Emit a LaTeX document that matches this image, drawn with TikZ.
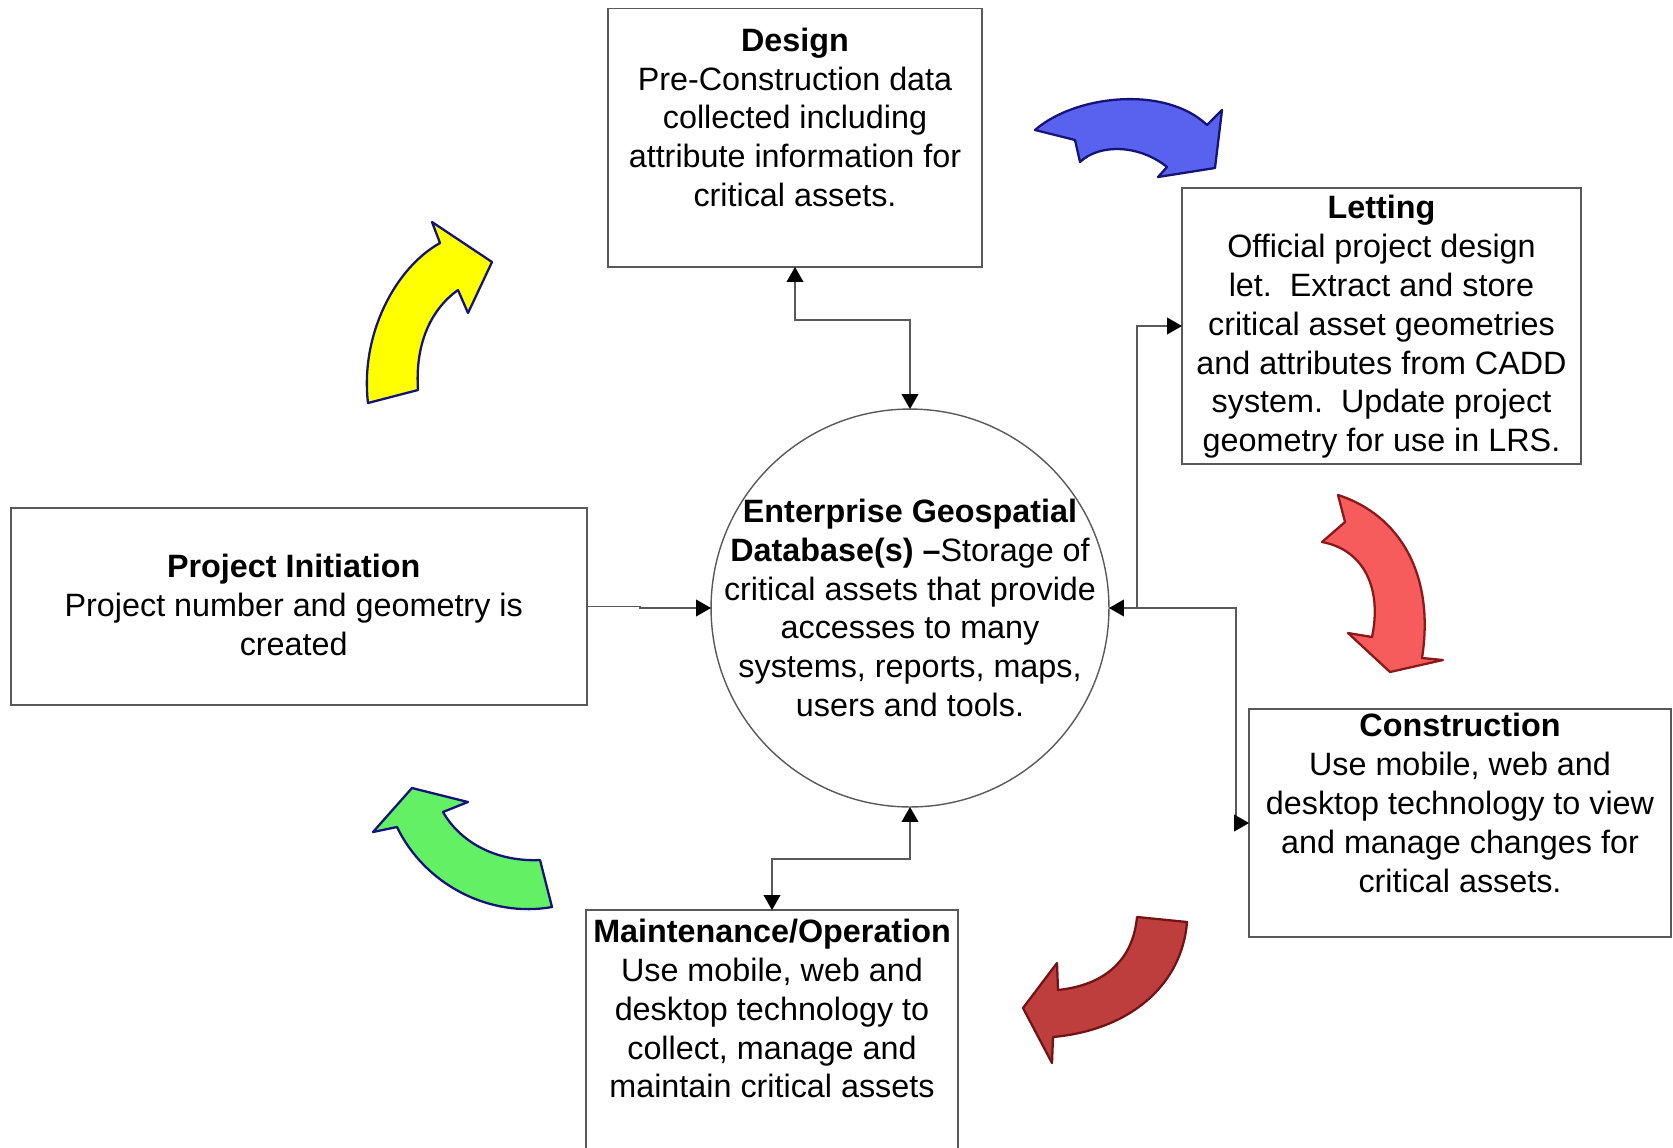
\documentclass[tikz,border=0pt]{standalone}
\usepackage{fontspec}
\setmainfont{Liberation Sans}
\usetikzlibrary{positioning,arrows.meta}

\definecolor{navyline}{RGB}{20,20,120}
\definecolor{swyellow}{RGB}{255,255,0}
\definecolor{swblue}{RGB}{88,98,238}
\definecolor{swred}{RGB}{246,92,92}
\definecolor{swredline}{RGB}{140,25,25}
\definecolor{swdark}{RGB}{190,62,62}
\definecolor{swdarkline}{RGB}{115,20,20}
\definecolor{swgreen}{RGB}{100,240,100}

\begin{document}
\begin{tikzpicture}[x=0.02cm,y=-0.02cm,
  box/.style={draw=gray!70!black, line width=0.8pt, inner sep=0pt, outer sep=0pt},
  txt/.style={font=\fontsize{18.4}{22.1}\selectfont, align=center, inner sep=0pt},
  link/.style={draw=gray!70!black, line width=0.8pt},
  >={Triangle[length=8.5pt,width=9.5pt,color=black]},
  swoop/.style={line width=1.3pt, line join=round}]
\useasboundingbox (0,0) rectangle (1673,1147);

% boxes
\node [box, minimum width=7.48cm, minimum height=5.17cm] (design) at (795,137.75) {};
\node [box, minimum width=7.98cm, minimum height=5.52cm] (letting) at (1381.5,326) {};
\node [box, minimum width=11.52cm, minimum height=3.94cm] (pinit) at (299,606.5) {};
\node [box, minimum width=8.44cm, minimum height=4.56cm] (constr) at (1460,823) {};
\node [box, minimum width=7.44cm, minimum height=5.2cm] (maint) at (772,1040) {};
\node [box, circle, minimum size=7.96cm] (db) at (910,608) {};

% texts
\node [txt] (dbtxt) at (db.center)
  {\textbf{Enterprise Geospatial}\\\textbf{Database(s) --}Storage of\\critical assets that provide\\accesses to many\\systems, reports, maps,\\users and tools.};
\node [txt, below=10.8pt of design.north] (designtxt)
  {\textbf{Design}\\Pre-Construction data\\collected including\\attribute information for\\critical assets.};
\node [txt, below=4pt of letting.north] (lettingtxt)
  {\textbf{Letting}\\Official project design\\let.\ \ Extract and store\\critical asset geometries\\and attributes from CADD\\system.\ \ Update project\\geometry for use in LRS.};
\node [txt, below=26pt of pinit.north, xshift=-3pt] (pinittxt)
  {\textbf{Project Initiation}\\Project number and geometry is\\created};
\node [txt, below=2.3pt of constr.north] (constrtxt)
  {\textbf{Construction}\\Use mobile, web and\\desktop technology to view\\and manage changes for\\critical assets.};
\node [txt, below=5pt of maint.north] (mainttxt)
  {\textbf{Maintenance/Operation}\\Use mobile, web and\\desktop technology to\\collect, manage and\\maintain critical assets};

% connectors
\draw [link, <->] (design.south) -- ++(0,53) -| (db.north);
\draw [link, ->] (pinit.east) -- ++(53,0) |- (db.west);
\draw [link, <->] (db.east) -- ++(127,0) |- (constr.west);
\draw [link, ->] (db.east) ++(28,0) |- (letting.west);
\draw [link, <->] (db.south) -- ++(0,52) -| (maint.north);

% curved arrows
\draw [swoop, draw=navyline, fill=swyellow] (368,403) -- (418,390)
  .. controls (415,345) and (430,310) .. (458,290) -- (468,313) -- (492,262)
  -- (432,222) -- (440,243) .. controls (395,268) and (360,335) .. (368,403) -- cycle;
\draw [swoop, draw=navyline, fill=swblue] (1035,130)
  .. controls (1075,95) and (1165,85) .. (1207,125) -- (1222,110) -- (1215,168)
  -- (1158,177) -- (1167,167) .. controls (1140,145) and (1100,143) .. (1080,162)
  -- (1075,140) -- cycle;
\draw [swoop, draw=swredline, fill=swred] (1338,495)
  .. controls (1400,515) and (1435,575) .. (1422,658) -- (1443,660) -- (1390,672)
  -- (1348,633) -- (1372,637) .. controls (1382,590) and (1365,550) .. (1322,542)
  -- (1345,522) -- cycle;
\draw [swoop, draw=swdarkline, fill=swdark] (1137,917) -- (1187,922)
  .. controls (1182,985) and (1130,1030) .. (1053,1037) -- (1052,1063) -- (1023,1008)
  -- (1057,963) -- (1058,990) .. controls (1105,985) and (1133,960) .. (1137,917) -- cycle;
\draw [swoop, draw=navyline, fill=swgreen] (412,788) -- (468,802) -- (443,812)
  .. controls (462,845) and (500,862) .. (540,860) -- (552,907)
  .. controls (490,918) and (425,885) .. (397,827) -- (373,832) -- cycle;
\end{tikzpicture}
\end{document}
